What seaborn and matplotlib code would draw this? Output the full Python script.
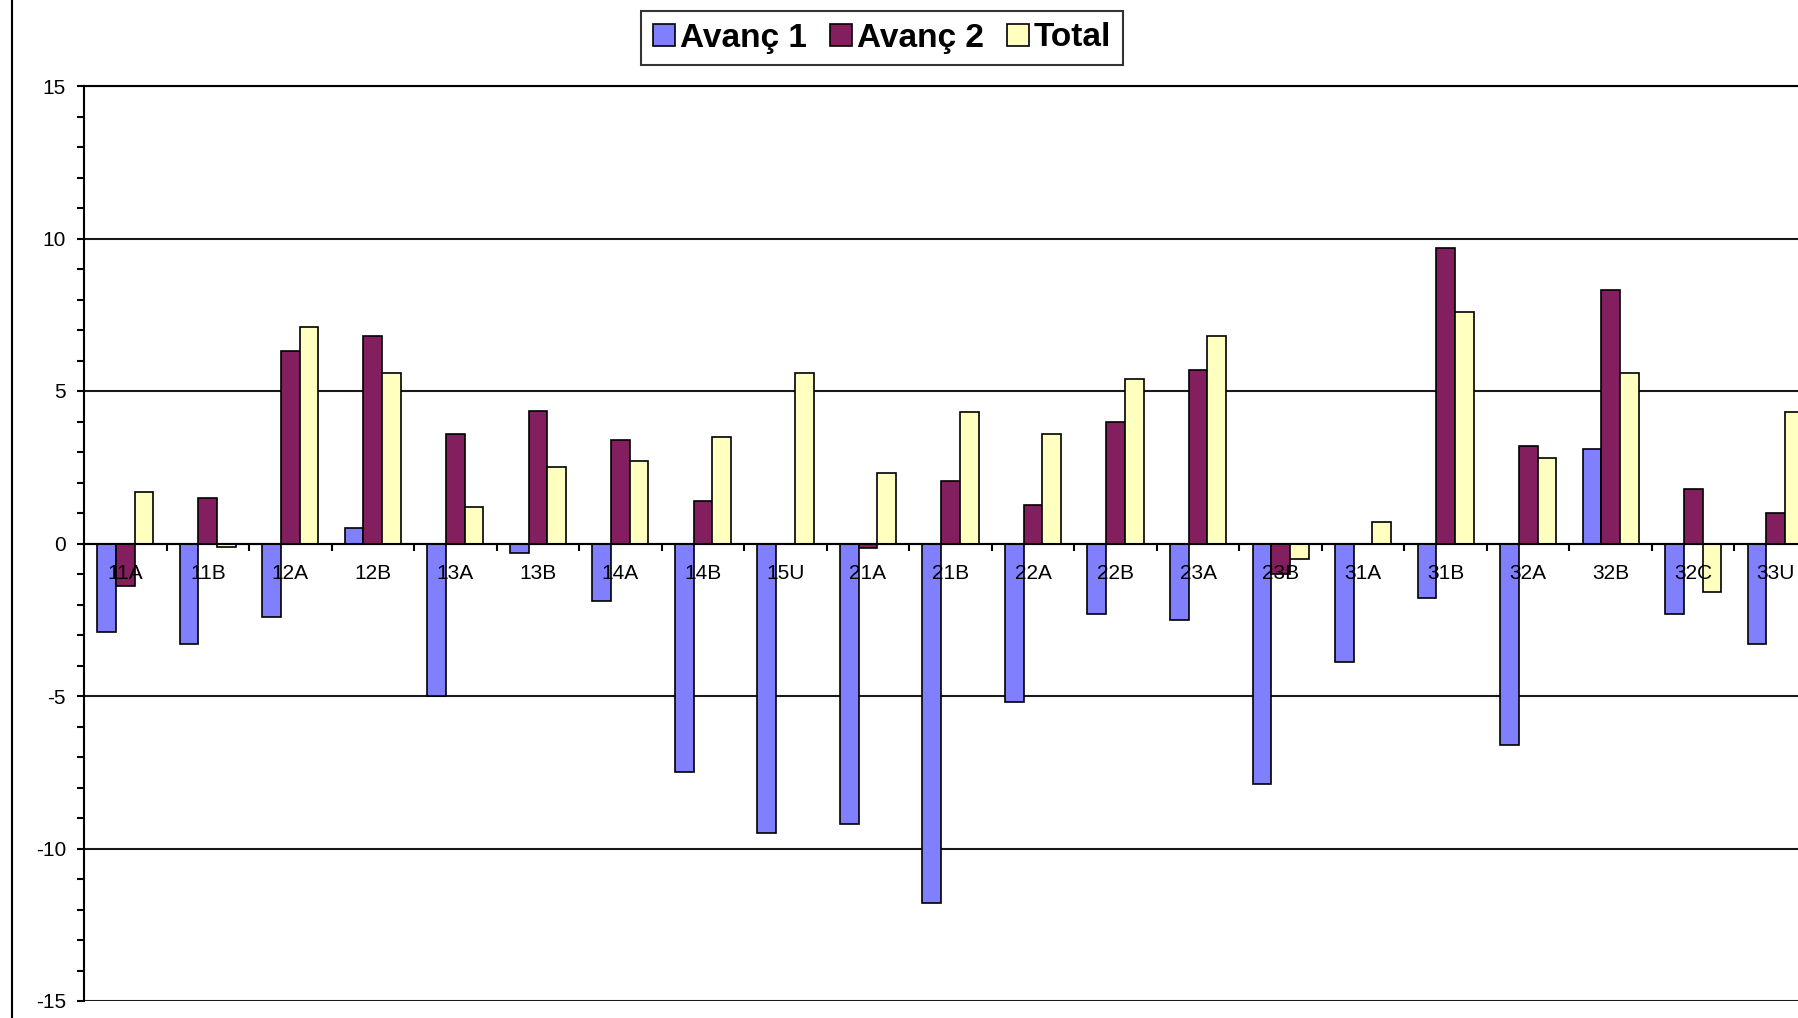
import numpy as np
import pandas as pd
import matplotlib
matplotlib.use('Agg')
import matplotlib.pyplot as plt
import seaborn as sns
from matplotlib.ticker import MultipleLocator, FixedLocator, FormatStrFormatter
from matplotlib.patches import Patch
from matplotlib.lines import Line2D

# données
zones = ['11A', '11B', '12A', '12B', '13A', '13B', '14A', '14B', '15U', '21A', '21B',
         '22A', '22B', '23A', '23B', '31A', '31B', '32A', '32B', '32C', '33U']
avanc1 = [-2.9, -3.3, -2.4, 0.5, -5.0, -0.3, -1.9, -7.5, -9.5, -9.2, -11.8,
          -5.2, -2.3, -2.5, -7.9, -3.9, -1.8, -6.6, 3.1, -2.3, -3.3]
avanc2 = [-1.4, 1.5, 6.3, 6.8, 3.6, 4.35, 3.4, 1.4, 0.0, -0.15, 2.05,
          1.25, 4.0, 5.7, -1.0, 0.0, 9.7, 3.2, 8.3, 1.8, 1.0]
total = [1.7, -0.1, 7.1, 5.6, 1.2, 2.5, 2.7, 3.5, 5.6, 2.3, 4.3,
         3.6, 5.4, 6.8, -0.5, 0.7, 7.6, 2.8, 5.6, -1.6, 4.3]
series = ['Avanç 1', 'Avanç 2', 'Total']
colors = ['#8080FF', '#841F5F', '#FFFFC0']

df = pd.DataFrame({
    'Zone': zones * 3,
    'Serie': np.repeat(series, len(zones)),
    'Valor': avanc1 + avanc2 + total,
})

sns.set_style('white')
plt.rcParams['font.family'] = ['Liberation Sans', 'DejaVu Sans']
plt.rcParams['axes.unicode_minus'] = False
plt.rcParams['text.color'] = 'black'
plt.rcParams['xtick.labelcolor'] = 'black'
plt.rcParams['ytick.labelcolor'] = 'black'

fig = plt.figure(figsize=(17.98, 10.18), dpi=100)
ax = fig.add_axes([84 / 1798, 1 - 1001 / 1018, 1 - 84 / 1798, (1001 - 86) / 1018])

sns.barplot(data=df, x='Zone', y='Valor', hue='Serie', order=zones, hue_order=series,
            palette=colors, saturation=1, width=0.68, edgecolor='black', linewidth=1.2,
            legend=False, ax=ax)

ax.set_xlabel('')
ax.set_ylabel('')
ax.set_ylim(-15, 15)
ax.set_xlim(-0.5, 20.27)

# axe Y
ax.yaxis.set_major_locator(MultipleLocator(5))
ax.yaxis.set_minor_locator(MultipleLocator(1))
ax.yaxis.set_major_formatter(FormatStrFormatter('%d'))
ax.tick_params(axis='y', which='both', left=True, length=5, width=1.5, direction='out',
               pad=8, labelsize=15, color='black', labelcolor='black')
ax.yaxis.grid(True, which='major', color='#1a1a1a', linewidth=1.5)
ax.set_axisbelow(True)

# axe X sur la ligne zéro
ax.spines['bottom'].set_position(('data', 0))
ax.xaxis.set_major_locator(FixedLocator(np.arange(len(zones))))
ax.xaxis.set_minor_locator(FixedLocator(np.arange(-0.5, len(zones))))
ax.set_xticklabels(zones)
ax.tick_params(axis='x', which='major', bottom=True, length=0, pad=15, labelsize=15,
               labelcolor='black')
ax.tick_params(axis='x', which='minor', bottom=True, length=5, width=1.5, direction='out',
               color='black')
ax.xaxis.set_zorder(3)

for side in ['left', 'top', 'bottom']:
    ax.spines[side].set_color('black')
    ax.spines[side].set_linewidth(1.5)
ax.spines['right'].set_visible(False)

# légende
handles = [Patch(facecolor=c, edgecolor='black', linewidth=1.2) for c in colors]
leg = fig.legend(handles, series, loc='center', bbox_to_anchor=(882 / 1798, 1 - 38 / 1018),
                 ncol=3, frameon=True, fancybox=False, edgecolor='black',
                 prop={'weight': 'bold', 'size': 24}, handlelength=0.65, handleheight=0.65,
                 handletextpad=0.15, columnspacing=0.7, borderpad=0.35, borderaxespad=0,
                 labelcolor='black')
leg.get_frame().set_linewidth(1.5)

# bordure gauche de la zone du graphique
fig.add_artist(Line2D([11.5 / 1798, 11.5 / 1798], [0, 1], transform=fig.transFigure,
                      color='black', linewidth=1.5))

fig.savefig('out.png', dpi=100, facecolor='white')
